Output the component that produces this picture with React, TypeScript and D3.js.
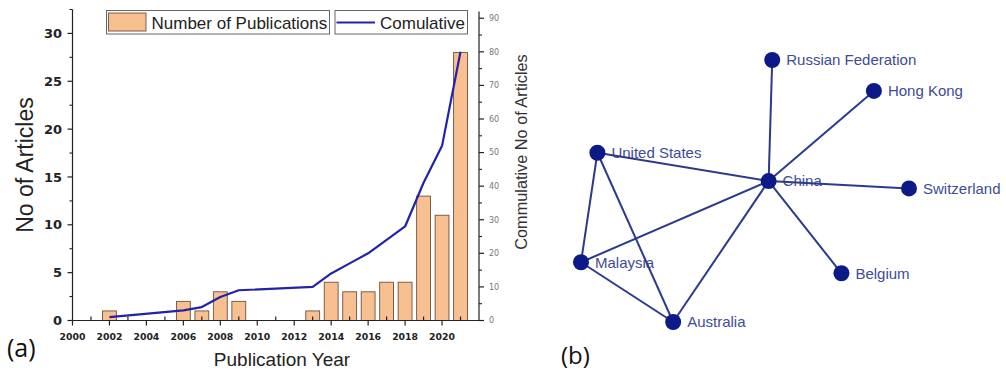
import React from "react";
import * as d3 from "d3";

// Panel (a): yearly publication counts
const years = [2002, 2006, 2007, 2008, 2009, 2013, 2014, 2015, 2016, 2017, 2018, 2019, 2020, 2021];
const publications = [1, 2, 1, 3, 2, 1, 4, 3, 3, 4, 4, 13, 11, 28];
const cumulative = [1, 3, 4, 7, 9, 10, 14, 17, 20, 24, 28, 41, 52, 80];

const xMajorTicks = [2000, 2002, 2004, 2006, 2008, 2010, 2012, 2014, 2016, 2018, 2020];
const leftTicks = [0, 5, 10, 15, 20, 25, 30];
const rightTicks = [0, 10, 20, 30, 40, 50, 60, 70, 80, 90];

// Panel (b): co-authorship network (layout coordinates 0–100)
const countries = ["Russian Federation", "Hong Kong", "United States", "China", "Switzerland", "Malaysia", "Belgium", "Australia"];
const layoutX = [58.3, 89.3, 5.0, 57.2, 100, 0, 79.4, 28.1];
const layoutY = [0, 11.8, 35.4, 46.2, 49.0, 77.2, 81.4, 100];
const links: [string, string][] = [
  ["China", "Russian Federation"],
  ["China", "Hong Kong"],
  ["China", "United States"],
  ["China", "Switzerland"],
  ["China", "Belgium"],
  ["China", "Malaysia"],
  ["China", "Australia"],
  ["United States", "Malaysia"],
  ["United States", "Australia"],
  ["Malaysia", "Australia"],
];

const W = 1006;
const H = 372;

const BAR_FILL = "#f8bf90";
const BAR_STROKE = "#6e5142";
const LINE = "#2222aa";
const NODE = "#0b1a86";
const EDGE = "#2c3a8c";
const LABEL = "#3e4c96";

function PanelA() {
  const x = d3.scaleLinear().domain([2000, 2022]).range([72.5, 479]);
  const yL = d3.scaleLinear().domain([0, 32.5]).range([320.5, 9.5]);
  const yR = d3.scaleLinear().domain([0, 92.6]).range([320.5, 9.5]);
  const barW = x(2000.75) - x(2000);

  const line = d3
    .line<number>()
    .x((_, i) => x(years[i]))
    .y((d) => yR(d));

  const xMinor = d3.range(2001, 2022, 2);
  const leftMinor = d3.range(2.5, 33, 5);
  const rightMinor = d3.range(5, 92, 10);
  const x0 = x.range()[0];
  const x1 = x.range()[1];
  const yb = yL(0);

  return (
    <g fontFamily="'Liberation Sans', Arial, sans-serif">
      {publications.map((v, i) => (
        <rect
          key={years[i]}
          x={x(years[i]) - barW / 2}
          y={yL(v)}
          width={barW}
          height={yb - yL(v)}
          fill={BAR_FILL}
          stroke={BAR_STROKE}
          strokeWidth={0.9}
        />
      ))}
      <path d={line(cumulative) || ""} fill="none" stroke={LINE} strokeWidth={2.2} strokeLinejoin="round" />

      {/* bottom axis */}
      <line x1={x0} x2={x1} y1={yb} y2={yb} stroke="#222" strokeWidth={1.2} />
      {xMajorTicks.map((t) => (
        <g key={t}>
          <line x1={x(t)} x2={x(t)} y1={yb} y2={yb + 5} stroke="#222" strokeWidth={1.2} />
          <text
            x={x(t)}
            y={340}
            textAnchor="middle"
            fontFamily="'DejaVu Sans', sans-serif"
            fontWeight="bold"
            fontSize={9.3}
            fill="#222"
          >
            {t}
          </text>
        </g>
      ))}
      {xMinor.map((t) => (
        <line key={t} x1={x(t)} x2={x(t)} y1={yb} y2={yb - 4} stroke="#222" strokeWidth={1.2} />
      ))}

      {/* left axis */}
      <line x1={x0} x2={x0} y1={yL(32.5)} y2={yb} stroke="#222" strokeWidth={1.2} />
      {leftTicks.map((t) => (
        <g key={t}>
          <line x1={x0 - 5} x2={x0} y1={yL(t)} y2={yL(t)} stroke="#222" strokeWidth={1.2} />
          <text
            x={62}
            y={yL(t)}
            dy="0.36em"
            textAnchor="end"
            fontFamily="'DejaVu Sans', sans-serif"
            fontWeight="bold"
            fontSize={13}
            fill="#222"
          >
            {t}
          </text>
        </g>
      ))}
      {leftMinor.map((t) => (
        <line key={t} x1={x0 - 3} x2={x0} y1={yL(t)} y2={yL(t)} stroke="#222" strokeWidth={1.1} />
      ))}

      {/* right axis */}
      <line x1={x1} x2={x1} y1={yR(92)} y2={yb} stroke="#222" strokeWidth={1.2} />
      {rightTicks.map((t) => (
        <g key={t}>
          <line x1={x1} x2={x1 + 5} y1={yR(t)} y2={yR(t)} stroke="#222" strokeWidth={1.2} />
          <text
            x={489}
            y={yR(t)}
            dy="0.36em"
            fontFamily="'DejaVu Sans', sans-serif"
            fontSize={8}
            fill="#777"
          >
            {t}
          </text>
        </g>
      ))}
      {rightMinor.map((t) => (
        <line key={t} x1={x1} x2={x1 + 3} y1={yR(t)} y2={yR(t)} stroke="#222" strokeWidth={1.1} />
      ))}

      {/* axis titles */}
      <text transform="translate(33,165) rotate(-90)" textAnchor="middle" fontSize={23} fill="#222">
        No of Articles
      </text>
      <text transform="translate(527,152) rotate(-90)" textAnchor="middle" fontSize={16.3} fill="#333">
        Commulative No of Articles
      </text>
      <text x={282} y={366} textAnchor="middle" fontSize={19} fill="#222">
        Publication Year
      </text>

      {/* legend */}
      <rect x={106.5} y={10.5} width={223} height={23.5} fill="#fff" stroke="#666" strokeWidth={1} />
      <rect x={108.5} y={13} width={37.5} height={18} fill={BAR_FILL} stroke={BAR_STROKE} strokeWidth={0.9} />
      <text x={151.5} y={28.5} fontSize={17} fill="#222">
        Number of Publications
      </text>
      <rect x={335} y={10.5} width={132.5} height={23.5} fill="#fff" stroke="#666" strokeWidth={1} />
      <line x1={336.5} x2={375} y1={22.5} y2={22.5} stroke={LINE} strokeWidth={2} />
      <text x={380} y={28.5} fontSize={17} fill="#222">
        Comulative
      </text>

      <text x={7} y={357} fontFamily="'Open Sans', 'Noto Sans', sans-serif" fontSize={25} fill="#111">
        (a)
      </text>
    </g>
  );
}

function PanelB() {
  const sx = d3.scaleLinear().domain([0, 100]).range([581, 909]);
  const sy = d3.scaleLinear().domain([0, 100]).range([60, 322]);
  const pos = new Map(countries.map((c, i) => [c, { x: sx(layoutX[i]), y: sy(layoutY[i]) }]));

  return (
    <g fontFamily="'Liberation Sans', Arial, sans-serif">
      {countries.map((c) => {
        const p = pos.get(c)!;
        return (
          <text key={c} x={p.x + 14} y={p.y} dy="0.36em" fontSize={15} fill={LABEL}>
            {c}
          </text>
        );
      })}
      {links.map(([a, b]) => {
        const p = pos.get(a)!;
        const q = pos.get(b)!;
        return <line key={a + b} x1={p.x} y1={p.y} x2={q.x} y2={q.y} stroke={EDGE} strokeWidth={2} />;
      })}
      {countries.map((c) => {
        const p = pos.get(c)!;
        return <circle key={c} cx={p.x} cy={p.y} r={8} fill={NODE} />;
      })}
      <text x={561} y={364} fontFamily="'Open Sans', 'Noto Sans', sans-serif" fontSize={24} fill="#111">
        (b)
      </text>
    </g>
  );
}

export default function App() {
  return (
    <div style={{ position: "absolute", left: 0, top: 0 }}>
      <svg width={W} height={H} viewBox={`0 0 ${W} ${H}`} style={{ display: "block", background: "#fff" }}>
        <PanelA />
        <PanelB />
      </svg>
    </div>
  );
}
